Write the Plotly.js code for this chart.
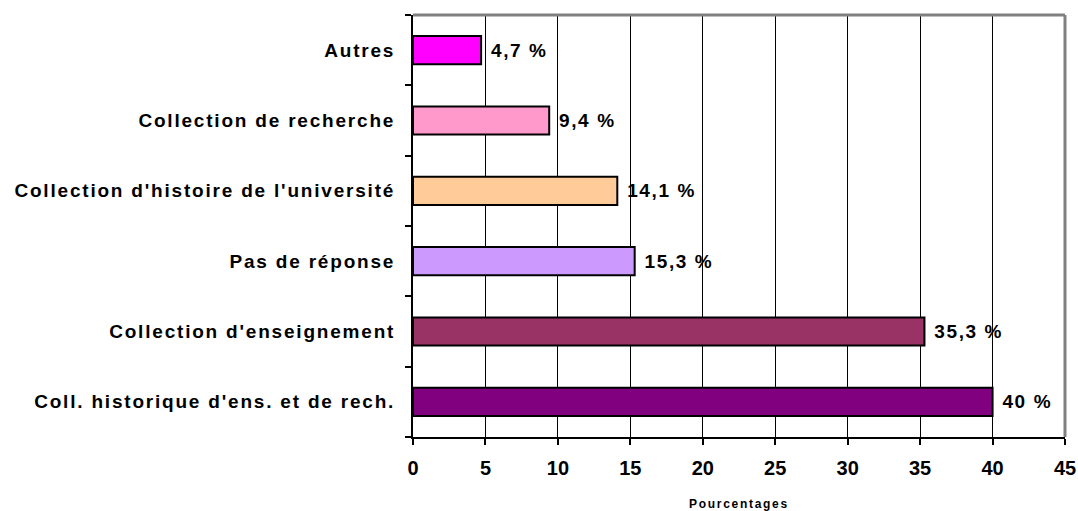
<!DOCTYPE html>
<html><head><meta charset="utf-8">
<script src="https://cdn.plot.ly/plotly-3.0.1.min.js"></script>
<style>
body{margin:0;background:#fff}#c{width:1078px;height:511px}
.ytick text{letter-spacing:1.8px}
.bartext{letter-spacing:1.6px}
.xtitle{letter-spacing:1.7px}
</style>
</head><body><div id="c"></div>
<script>
const categories = ["Coll. historique d'ens. et de rech.", "Collection d'enseignement", "Pas de réponse", "Collection d'histoire de l'université", "Collection de recherche", "Autres"];
const values = [40, 35.3, 15.3, 14.1, 9.4, 4.7];
const valueLabels = ["40 %", "35,3 %", "15,3 %", "14,1 %", "9,4 %", "4,7 %"];
const colors = ["#800080", "#993366", "#CC99FF", "#FFCC99", "#FF99CC", "#FF00FF"];
const xTicks = [0, 5, 10, 15, 20, 25, 30, 35, 40, 45];

const trace = {
  type: 'bar', orientation: 'h',
  x: values, y: categories,
  text: valueLabels.map(t => ' ' + t),
  textposition: 'outside', cliponaxis: false, constraintext: 'none',
  textfont: {family: 'Liberation Sans, Arial, sans-serif', size: 19, color: '#000', weight: 'bold'},
  marker: {color: colors, line: {color: '#000', width: 2}},
  width: 0.4, hoverinfo: 'none'
};
const layout = {
  width: 1078, height: 511,
  margin: {l: 413, r: 13, t: 15, b: 74},
  paper_bgcolor: '#fff', plot_bgcolor: '#fff',
  showlegend: false,
  font: {family: 'Liberation Sans, Arial, sans-serif', color: '#000'},
  xaxis: {
    range: [0, 45], tickvals: xTicks, ticktext: xTicks.map(String),
    showgrid: true, gridcolor: '#000', gridwidth: 1,
    showline: true, linecolor: '#000', linewidth: 2,
    ticks: 'outside', ticklen: 6, tickwidth: 2, tickcolor: '#000',
    tickfont: {size: 20, weight: 'bold'},
    ticklabelstandoff: 6,
    zeroline: false,
    title: {text: 'Pourcentages', font: {size: 12, weight: 'bold'}, standoff: 23}
  },
  yaxis: {
    type: 'category', categoryorder: 'array', categoryarray: categories,
    range: [-0.5, 5.5],
    showgrid: false, tickson: 'boundaries',
    showline: true, linecolor: '#000', linewidth: 2,
    ticks: 'outside', ticklen: 6, tickwidth: 2, tickcolor: '#000',
    tickfont: {size: 19, weight: 'bold'},
    ticklabelstandoff: 12,
    zeroline: false
  },
  shapes: [
    {type: 'line', xref: 'paper', yref: 'paper', x0: 0, x1: 1, y0: 1, y1: 1, line: {color: '#808080', width: 3}, layer: 'above'},
    {type: 'line', xref: 'paper', yref: 'paper', x0: 1, x1: 1, y0: 0, y1: 1, line: {color: '#808080', width: 3}, layer: 'above'}
  ]
};
Plotly.newPlot('c', [trace], layout, {staticPlot: true, displayModeBar: false});
</script></body></html>
